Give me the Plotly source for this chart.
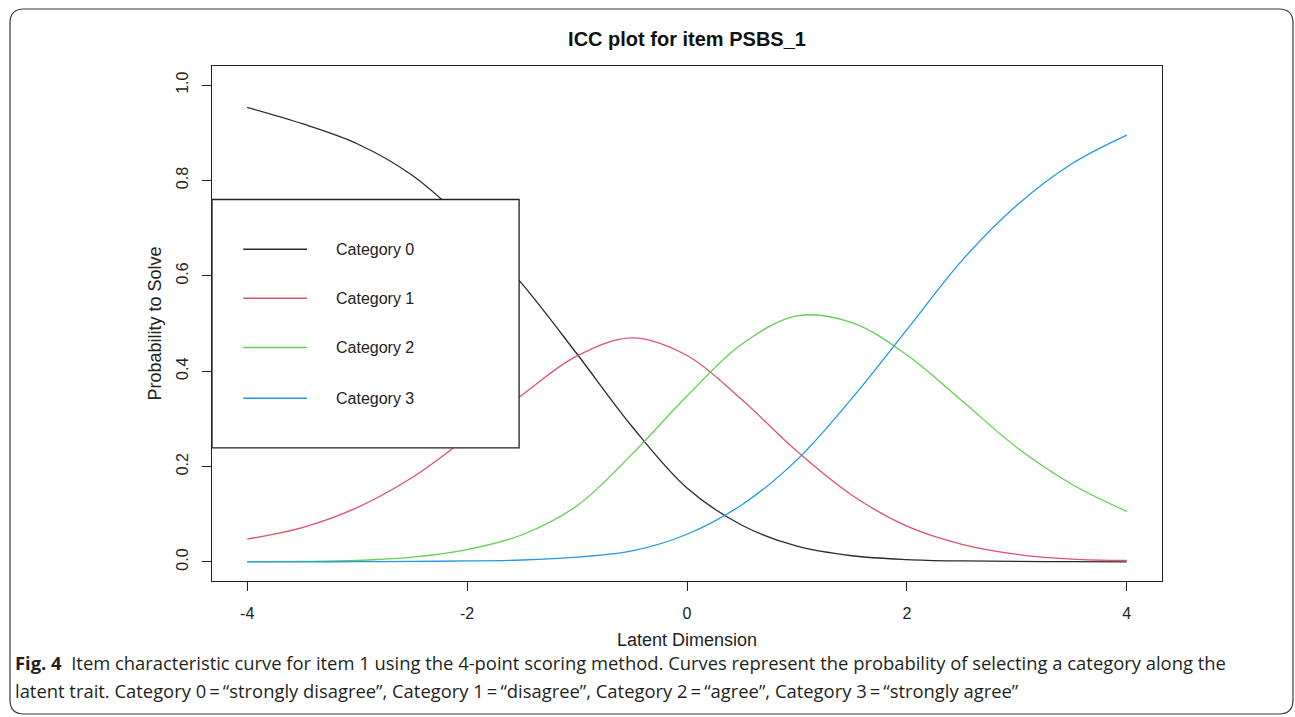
import plotly.graph_objects as go

# ---- data ----
theta = [-4.0, -3.5, -3.0, -2.5, -2.0, -1.5, -1.0, -0.5, 0.0, 0.5, 1.0, 1.5, 2.0, 2.5, 3.0, 3.5, 4.0]
cat0 = [0.953, 0.919, 0.877, 0.811, 0.710, 0.583, 0.436, 0.284, 0.155, 0.077, 0.033, 0.013, 0.005, 0.002, 0.001, 0.0005, 0.0002]
cat1 = [0.048, 0.072, 0.114, 0.177, 0.261, 0.350, 0.432, 0.470, 0.433, 0.340, 0.232, 0.140, 0.075, 0.037, 0.016, 0.006, 0.003]
cat2 = [0.0005, 0.001, 0.003, 0.010, 0.026, 0.057, 0.118, 0.226, 0.348, 0.457, 0.516, 0.502, 0.434, 0.338, 0.240, 0.163, 0.106]
cat3 = [0.0, 0.0002, 0.0005, 0.001, 0.002, 0.004, 0.010, 0.023, 0.058, 0.120, 0.214, 0.343, 0.487, 0.632, 0.748, 0.835, 0.895]

series_names = ["Category 0", "Category 1", "Category 2", "Category 3"]
series_values = [cat0, cat1, cat2, cat3]
series_colors = ["#2b2b2b", "#DF536B", "#61D04F", "#2297E6"]

x_ticks = [-4, -2, 0, 2, 4]
y_ticks = [0.0, 0.2, 0.4, 0.6, 0.8, 1.0]
y_tick_labels = ["0.0", "0.2", "0.4", "0.6", "0.8", "1.0"]

title_text = "ICC plot for item PSBS_1"
x_title = "Latent Dimension"
y_title = "Probability to Solve"
caption_bold = "Fig. 4"
caption_line1 = "Item characteristic curve for item 1 using the 4-point scoring method. Curves represent the probability of selecting a category along the"
caption_line2 = "latent trait. Category 0\u2009=\u2009\u201cstrongly disagree\u201d, Category 1\u2009=\u2009\u201cdisagree\u201d, Category 2\u2009=\u2009\u201cagree\u201d, Category 3\u2009=\u2009\u201cstrongly agree\u201d"

FONT = "Liberation Sans, Arial, sans-serif"
AXC = "#222222"

fig = go.Figure()
for name, vals, col in zip(series_names, series_values, series_colors):
    fig.add_trace(go.Scatter(x=theta, y=vals, mode="lines", name=name,
                             line=dict(color=col, width=1.3, shape="spline", smoothing=1.0),
                             showlegend=False, hoverinfo="x+y+name"))

XR = [-4.32, 4.32]
YR = [-0.04, 1.04]

shapes = []
annotations = []

# legend box (R style, in data coordinates)
leg_left, leg_right, leg_bottom, leg_top = XR[0], -1.527, 0.239, 0.760
shapes.append(dict(type="rect", xref="x", yref="y", x0=leg_left, x1=leg_right, y0=leg_bottom, y1=leg_top,
                   fillcolor="white", line=dict(color=AXC, width=1.3), layer="above"))
leg_rows = [0.6555, 0.553, 0.4496, 0.343]
for name, col, yy in zip(series_names, series_colors, leg_rows):
    shapes.append(dict(type="line", xref="x", yref="y", x0=-4.036, x1=-3.456, y0=yy, y1=yy,
                       line=dict(color=col, width=1.5), layer="above"))
    annotations.append(dict(text=name, xref="x", yref="y", x=-3.212, y=yy, xanchor="left", yanchor="middle",
                            showarrow=False, font=dict(family=FONT, size=16, color="#222")))

# outer rounded frame of the figure panel (paper coords: plot area 212..1162 x, 66..581 y)
def px_x(p):
    return (p - 212) / 950.0

def px_y(p):
    return (581 - p) / 515.0

L, R, T, B, rr = 10, 1293, 9, 714, 14
path = (f"M {px_x(L+rr)},{px_y(T)} L {px_x(R-rr)},{px_y(T)} Q {px_x(R)},{px_y(T)} {px_x(R)},{px_y(T+rr)} "
        f"L {px_x(R)},{px_y(B-rr)} Q {px_x(R)},{px_y(B)} {px_x(R-rr)},{px_y(B)} "
        f"L {px_x(L+rr)},{px_y(B)} Q {px_x(L)},{px_y(B)} {px_x(L)},{px_y(B-rr)} "
        f"L {px_x(L)},{px_y(T+rr)} Q {px_x(L)},{px_y(T)} {px_x(L+rr)},{px_y(T)} Z")
shapes.append(dict(type="path", xref="paper", yref="paper", path=path, line=dict(color="#3a3a3a", width=1.2)))

# caption
CAPF = "Liberation Sans Narrow, Arial Narrow, Open Sans, sans-serif"
annotations.append(dict(text=f"<b>{caption_bold}</b>  {caption_line1}", xref="paper", yref="paper",
                        x=px_x(13), y=px_y(662), xanchor="left", yanchor="middle", showarrow=False,
                        align="left", font=dict(family=CAPF, size=18.4, color="#231f20")))
annotations.append(dict(text=caption_line2, xref="paper", yref="paper",
                        x=px_x(13), y=px_y(690), xanchor="left", yanchor="middle", showarrow=False,
                        align="left", font=dict(family=CAPF, size=18.4, color="#231f20")))

fig.update_layout(
    width=1295, height=717,
    margin=dict(l=212, r=133, t=66, b=136),
    paper_bgcolor="white", plot_bgcolor="white",
    title=dict(text=f"<b>{title_text}</b>", x=0.5, xref="paper", y=1 - 38.5 / 717, yanchor="middle",
               font=dict(family=FONT, size=20, color="#111")),
    font=dict(family=FONT, color="#222"),
    shapes=shapes, annotations=annotations,
    showlegend=False,
)
fig.update_xaxes(range=XR, tickvals=x_ticks, ticktext=[str(v) for v in x_ticks],
                 showgrid=False, zeroline=False, showline=True, mirror=True, linecolor=AXC, linewidth=1.3,
                 ticks="outside", ticklen=9, tickwidth=1.3, tickcolor=AXC,
                 tickfont=dict(family=FONT, size=16, color="#222"), ticklabelstandoff=9,
                 title=dict(text=x_title, font=dict(family=FONT, size=18, color="#222"), standoff=12))
fig.update_yaxes(range=YR, tickvals=y_ticks, ticktext=y_tick_labels, tickangle=-90,
                 showgrid=False, zeroline=False, showline=True, mirror=True, linecolor=AXC, linewidth=1.3,
                 ticks="outside", ticklen=9, tickwidth=1.3, tickcolor=AXC,
                 tickfont=dict(family=FONT, size=16, color="#222"), ticklabelstandoff=7,
                 title=dict(text=y_title, font=dict(family=FONT, size=18, color="#222"), standoff=8))

fig.write_html("out.html", config={"displayModeBar": False},
               post_script="document.body.style.margin='0';")
